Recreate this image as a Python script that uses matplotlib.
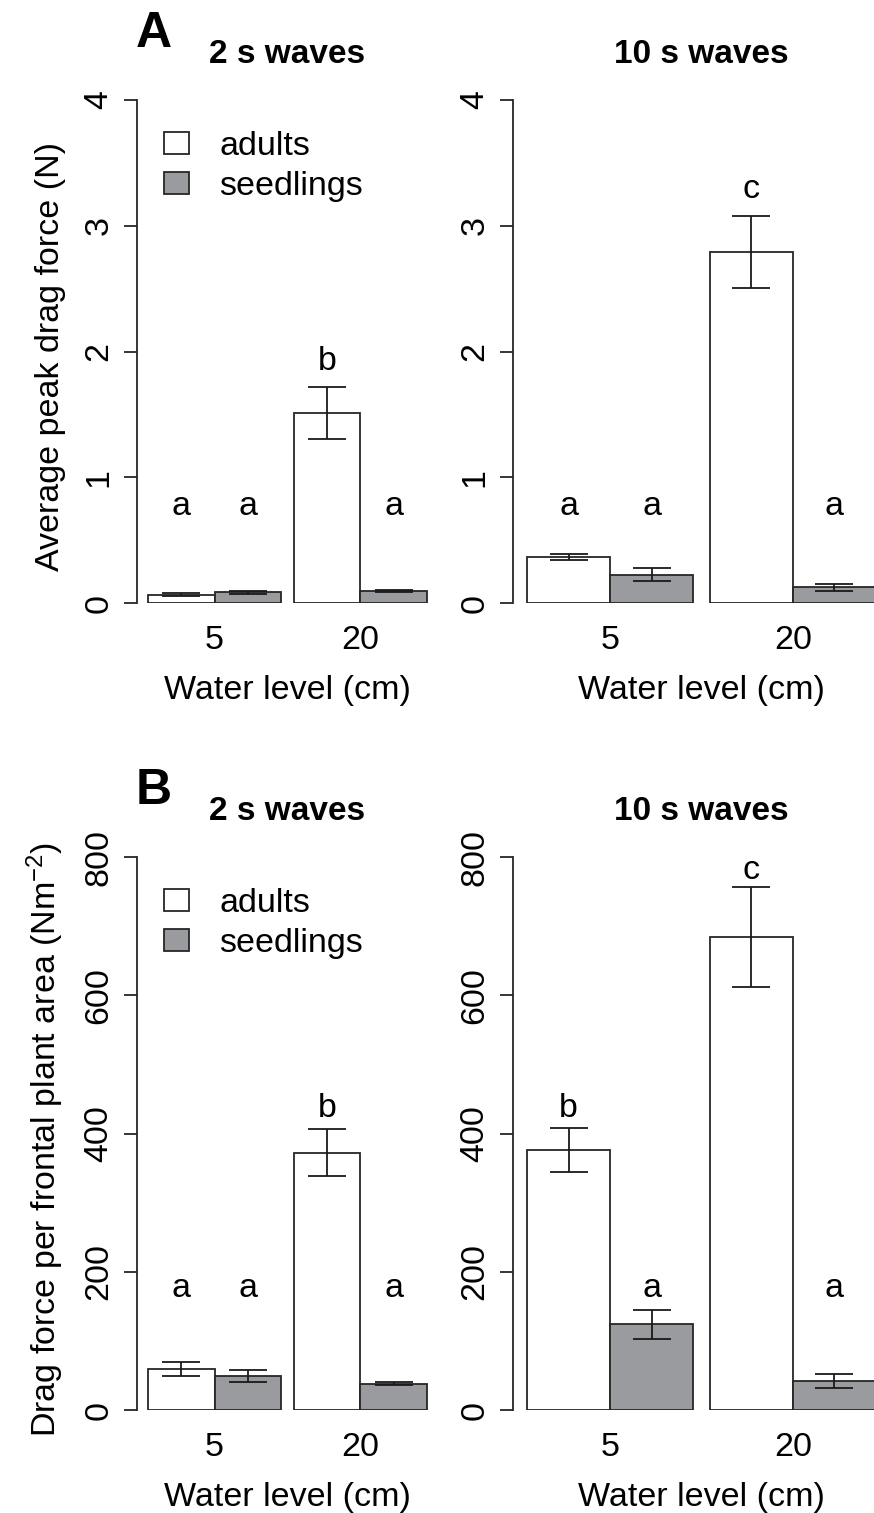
import numpy as np
import matplotlib
matplotlib.use('Agg')
import matplotlib.pyplot as plt

plt.rcParams['font.family'] = ['Liberation Sans', 'DejaVu Sans']
plt.rcParams['mathtext.fontset'] = 'custom'
plt.rcParams['mathtext.rm'] = 'Liberation Sans'
plt.rcParams['mathtext.it'] = 'Liberation Sans:italic'
plt.rcParams['mathtext.bf'] = 'Liberation Sans:bold'

# data
groups = ['5', '20']
series = ['adults', 'seedlings']
colors = ['white', '#9a9b9e']

# A: average peak drag force (N)
a2_adults = [0.067, 1.51]
a2_adults_se = [0.01, 0.205]
a2_seed = [0.085, 0.098]
a2_seed_se = [0.01, 0.009]
a10_adults = [0.365, 2.79]
a10_adults_se = [0.027, 0.285]
a10_seed = [0.225, 0.125]
a10_seed_se = [0.05, 0.027]

# B: drag force per frontal plant area (N m^-2)
b2_adults = [59, 372]
b2_adults_se = [10, 34]
b2_seed = [49, 38]
b2_seed_se = [9, 2]
b10_adults = [376, 684]
b10_adults_se = [32, 72]
b10_seed = [124, 42]
b10_seed_se = [21, 10]

# significance letters and their heights
a2_let = [['a', 'b'], ['a', 'a']]
a2_let_y = [[0.70, 1.85], [0.70, 0.70]]
a10_let = [['a', 'c'], ['a', 'a']]
a10_let_y = [[0.70, 3.22], [0.70, 0.70]]
b2_let = [['a', 'b'], ['a', 'a']]
b2_let_y = [[163, 424], [163, 163]]
b10_let = [['b', 'c'], ['a', 'a']]
b10_let_y = [[424, 768], [163, 163]]

W, H = 874, 1513
FS = 24.5
EDGE = '#262626'
LW = 1.3

fig = plt.figure(figsize=(W / 100, H / 100), dpi=100)

cols = [(137, 438), (513, 890)]
rows = [(100, 603), (857, 1410)]


def panel(col, row):
    x0, x1 = cols[col]
    y0, y1 = rows[row]
    return fig.add_axes([x0 / W, 1 - y1 / H, (x1 - x0) / W, (y1 - y0) / H])


def draw(ax, adults, adults_se, seed, seed_se, letters, letters_y,
         ymax, yticks, title, box, legend=False, ylabel=None):
    pos = np.arange(len(groups)) * 2.2 + 0.5
    ax.bar(pos, adults, width=1, color=colors[0], edgecolor=EDGE,
           linewidth=LW, label=series[0], zorder=2)
    ax.bar(pos + 1, seed, width=1, color=colors[1], edgecolor=EDGE,
           linewidth=LW, label=series[1], zorder=2)
    for x, y, e in [(pos, adults, adults_se), (pos + 1, seed, seed_se)]:
        ax.errorbar(x, y, yerr=e, fmt='none', ecolor='#1a1a1a',
                    elinewidth=LW, capsize=14, capthick=LW, zorder=3)
    for k, x in enumerate([pos, pos + 1]):
        for xi, yi, t in zip(x, letters_y[k], letters[k]):
            ax.text(xi, yi, t, ha='center', va='baseline', fontsize=FS)
    ax.set_xlim(-0.168, 4.368)
    ax.set_ylim(0, ymax)
    for s in ['top', 'right', 'bottom']:
        ax.spines[s].set_visible(False)
    ax.spines['left'].set_linewidth(LW)
    ax.spines['left'].set_color(EDGE)
    ax.set_yticks(yticks)
    ax.tick_params(axis='y', length=9.4, width=LW, pad=7, labelsize=FS,
                   labelrotation=90, color=EDGE)
    plt.setp(ax.get_yticklabels(), va='center')
    ax.set_xticks(pos + 0.5, groups)
    ax.tick_params(axis='x', length=0, pad=15.5, labelsize=FS)
    ax.set_xlabel('Water level (cm)', fontsize=FS, labelpad=14)
    ax.set_title(title, fontsize=24, fontweight='bold', pad=26.6)
    ax.patch.set_visible(False)
    x0, x1 = cols[box[0]]
    y0, y1 = rows[box[1]]
    if legend:
        ax.legend(frameon=False, loc='upper left',
                  bbox_to_anchor=((164 - x0) / (x1 - x0),
                                  1 - 31 / (y1 - y0)),
                  borderpad=0, borderaxespad=0, fontsize=FS,
                  handlelength=0.74, handleheight=0.62,
                  handletextpad=0.88, labelspacing=0.27)
    if ylabel:
        ax.set_ylabel(ylabel, fontsize=FS)
        ax.yaxis.set_label_coords((66 - x0) / (x1 - x0), 0.49)


ax = panel(0, 0)
draw(ax, a2_adults, a2_adults_se, a2_seed, a2_seed_se, a2_let, a2_let_y,
     4, [0, 1, 2, 3, 4], '2 s waves', (0, 0), legend=True,
     ylabel='Average peak drag force (N)')
ax = panel(1, 0)
draw(ax, a10_adults, a10_adults_se, a10_seed, a10_seed_se, a10_let, a10_let_y,
     4, [0, 1, 2, 3, 4], '10 s waves', (1, 0))
ax = panel(0, 1)
draw(ax, b2_adults, b2_adults_se, b2_seed, b2_seed_se, b2_let, b2_let_y,
     800, [0, 200, 400, 600, 800], '2 s waves', (0, 1), legend=True,
     ylabel='Drag force per frontal plant area (Nm$^{-2}$)')
ax = panel(1, 1)
draw(ax, b10_adults, b10_adults_se, b10_seed, b10_seed_se, b10_let, b10_let_y,
     800, [0, 200, 400, 600, 800], '10 s waves', (1, 1))

fig.text(154 / W, 1 - 47 / H, 'A', fontsize=36, fontweight='bold',
         ha='center', va='baseline')
fig.text(154 / W, 1 - 804 / H, 'B', fontsize=36, fontweight='bold',
         ha='center', va='baseline')

fig.savefig('out.png', dpi=100)
